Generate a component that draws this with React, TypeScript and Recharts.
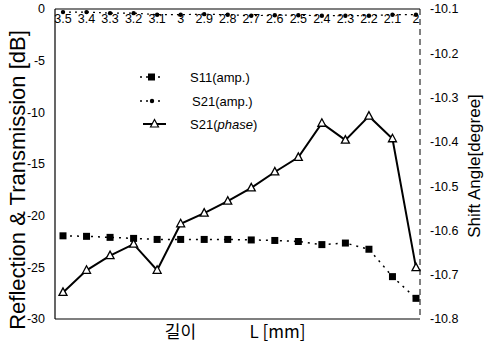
import React from 'react';
import {
  LineChart,
  Line,
  XAxis,
  YAxis,
} from 'recharts';

// Length L [mm], read left to right
const LENGTHS = ['3.5', '3.4', '3.3', '3.2', '3.1', '3', '2.9', '2.8', '2.7', '2.6', '2.5', '2.4', '2.3', '2.2', '2.1', '2'];

// dB, left axis
const S11_AMP = [-21.95, -22.0, -22.1, -22.2, -22.3, -22.3, -22.3, -22.3, -22.35, -22.4, -22.5, -22.8, -22.65, -23.25, -25.9, -28.0];
const S21_AMP = [-0.3, -0.3, -0.4, -0.4, -0.55, -0.55, -0.5, -0.55, -0.65, -0.6, -0.6, -0.65, -0.65, -0.65, -0.55, -0.55];

// degree, right axis
const S21_PHASE = [-10.74, -10.69, -10.657, -10.631, -10.69, -10.585, -10.561, -10.534, -10.504, -10.468, -10.435, -10.358, -10.396, -10.342, -10.393, -10.684];

const LEFT_TICKS = [0, -5, -10, -15, -20, -25, -30];
const RIGHT_TICKS = [-10.1, -10.2, -10.3, -10.4, -10.5, -10.6, -10.7, -10.8];

const FONT = '"Liberation Sans", Arial, sans-serif';

const data = LENGTHS.map((l, i) => ({
  len: l,
  s11: S11_AMP[i],
  s21: S21_AMP[i],
  phase: S21_PHASE[i],
}));

const squareDot = (props: any) => {
  const { cx, cy, index } = props;
  return <rect key={`sq-${index}`} x={cx - 3.5} y={cy - 3.5} width={7} height={7} fill="#000" />;
};

const plusDot = (props: any) => {
  const { cx, cy, index } = props;
  return <circle key={`pl-${index}`} cx={cx} cy={cy} r={2.2} fill="#000" />;
};

const triangleDot = (props: any) => {
  const { cx, cy, index } = props;
  return (
    <polygon
      key={`tr-${index}`}
      points={`${cx},${cy - 4.5} ${cx - 4},${cy + 3} ${cx + 4},${cy + 3}`}
      fill="#fff"
      stroke="#000"
      strokeWidth={1.3}
    />
  );
};

// category labels sit just inside the top frame
const TopTick = (props: any) => {
  const { x, y, payload } = props;
  return (
    <text x={x} y={y + 22} textAnchor="middle" fontSize={12.5} fontFamily={FONT} fill="#000">
      {payload.value}
    </text>
  );
};

const BottomLabel = (props: any) => {
  const { viewBox } = props;
  const cx = viewBox.x + viewBox.width / 2;
  const y = viewBox.y + 19;
  return (
    <g fontSize={17} fontFamily={'"Noto Sans CJK KR", ' + FONT} fill="#000">
      <text x={cx - 57} y={y} textAnchor="middle">길이</text>
      <text x={cx + 40} y={y} textAnchor="middle">L [mm]</text>
    </g>
  );
};

const LeftLabel = (props: any) => {
  const { viewBox } = props;
  const x = viewBox.x + 25;
  const y = viewBox.y + viewBox.height / 2 + 16;
  return (
    <text
      x={x}
      y={y}
      transform={`rotate(-90 ${x} ${y})`}
      textAnchor="middle"
      fontSize={22}
      fontFamily={FONT}
      fill="#000"
    >
      Reflection &amp; Transmission [dB]
    </text>
  );
};

const RightLabel = (props: any) => {
  const { viewBox } = props;
  const x = viewBox.x + viewBox.width - 7;
  const y = viewBox.y + viewBox.height / 2 + 2;
  return (
    <text
      x={x}
      y={y}
      transform={`rotate(-90 ${x} ${y})`}
      textAnchor="middle"
      fontSize={17}
      fontFamily={FONT}
      fill="#000"
    >
      Shift Angle[degree]
    </text>
  );
};

const LegendBox = () => (
  <svg width={140} height={75} style={{ position: 'absolute', left: 135, top: 66 }}>
    <line x1={5} y1={11} x2={28} y2={11} stroke="#000" strokeWidth={1.5} strokeDasharray="2 4" />
    <rect x={13} y={7.5} width={7} height={7} fill="#000" />
    <text x={55} y={16} fontSize={13} fontFamily={FONT}>S11(amp.)</text>

    <line x1={5} y1={35} x2={28} y2={35} stroke="#000" strokeWidth={1.5} strokeDasharray="2 4" />
    <circle cx={17} cy={35} r={2.2} fill="#000" />
    <text x={57} y={40} fontSize={13} fontFamily={FONT}>S21(amp.)</text>

    <line x1={8} y1={58} x2={31} y2={58} stroke="#000" strokeWidth={2} />
    <polygon points="19.5,53.5 15.5,61 23.5,61" fill="#fff" stroke="#000" strokeWidth={1.2} />
    <text x={55} y={63} fontSize={13} fontFamily={FONT}>
      S21(<tspan fontStyle="italic">phase</tspan>)
    </text>
  </svg>
);

export default function App() {
  return (
    <div style={{ position: 'absolute', left: 0, top: 0, width: 487, height: 346, background: '#fff' }}>
      <LineChart
        width={487}
        height={346}
        data={data}
        margin={{ top: 8, right: 0, bottom: 0, left: 0 }}
      >
        <XAxis
          xAxisId="top"
          dataKey="len"
          orientation="top"
          height={1}
          padding={{ left: 8, right: 4 }}
          axisLine={{ stroke: '#000', strokeWidth: 1.2 }}
          tickLine={false}
          tick={<TopTick />}
          interval={0}
        />
        <XAxis
          xAxisId="bottom"
          dataKey="len"
          height={27}
          padding={{ left: 8, right: 4 }}
          axisLine={{ stroke: '#000', strokeWidth: 1.2 }}
          tickLine={false}
          tick={false}
          label={<BottomLabel />}
        />
        <YAxis
          yAxisId="left"
          width={55}
          domain={[-30, 0]}
          ticks={LEFT_TICKS}
          interval={0}
          axisLine={{ stroke: '#000', strokeWidth: 1.2 }}
          tickLine={false}
          tickMargin={4}
          tick={{ fontSize: 12.5, fontFamily: FONT, fill: '#000' }}
          label={<LeftLabel />}
        />
        <YAxis
          yAxisId="right"
          orientation="right"
          width={67}
          domain={[-10.8, -10.1]}
          ticks={RIGHT_TICKS}
          interval={0}
          axisLine={{ stroke: '#000', strokeWidth: 1, strokeDasharray: '6 4' }}
          tickLine={false}
          tickMargin={4}
          tickFormatter={(v: number) => v.toFixed(1)}
          tick={{ fontSize: 12.5, fontFamily: FONT, fill: '#000' }}
          label={<RightLabel />}
        />
        <Line
          xAxisId="bottom"
          yAxisId="left"
          dataKey="s11"
          stroke="#000"
          strokeWidth={1.5}
          strokeDasharray="2 5"
          dot={squareDot}
          isAnimationActive={false}
        />
        <Line
          xAxisId="top"
          yAxisId="left"
          dataKey="s21"
          stroke="#000"
          strokeWidth={1.2}
          strokeDasharray="2 4"
          dot={plusDot}
          isAnimationActive={false}
        />
        <Line
          xAxisId="bottom"
          yAxisId="right"
          dataKey="phase"
          stroke="#000"
          strokeWidth={2}
          dot={triangleDot}
          isAnimationActive={false}
        />
      </LineChart>
      <LegendBox />
    </div>
  );
}
